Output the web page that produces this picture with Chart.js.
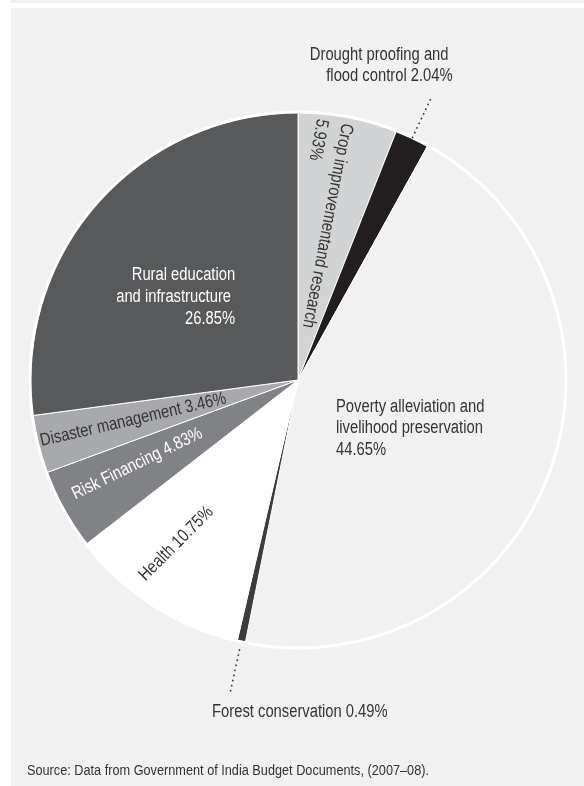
<!DOCTYPE html>
<html>
<head>
<meta charset="utf-8">
<script src="https://cdn.jsdelivr.net/npm/chart.js@4.4.1/dist/chart.umd.min.js"></script>
<style>
  html, body { margin: 0; padding: 0; background: #fff; }
  body { width: 584px; height: 786px; position: relative; overflow: hidden;
         font-family: "Liberation Sans", Arial, sans-serif; }
  #bande { position: absolute; left: 11px; top: 0; width: 573px; height: 3px; background: #f1f1f1; }
  #panneau { position: absolute; left: 11px; top: 8px; width: 573px; height: 778px; background: #f1f1f1; }
  #graph { position: absolute; left: 0; top: 0; }
  #source { position: absolute; left: 27px; top: 761px; font-size: 15.5px; color: #333; white-space: nowrap;
            transform: scaleX(0.82); transform-origin: 0 0; }
</style>
</head>
<body>
<div id="bande"></div>
<div id="panneau"></div>
<canvas id="graph" width="584" height="786"></canvas>
<div id="source">Source: Data from Government of India Budget Documents, (2007–08).</div>
<script>
// Postes budgétaires (sens horaire depuis midi)
const categories = [
    'Crop improvementand research',
    'Drought proofing and flood control',
    'Poverty alleviation and livelihood preservation',
    'Forest conservation',
    'Health',
    'Risk Financing',
    'Disaster management',
    'Rural education and infrastructure'
];
// Parts en pourcentage
const valeurs = [5.93, 2.04, 44.65, 0.49, 10.75, 4.83, 3.46, 26.85];
const couleurs = ['#d1d3d4', '#231f20', '#f1f1f1', '#3c3c3e', '#ffffff', '#808285', '#a7a9ac', '#58595b'];

// Police étroite simulée : Liberation Sans compressée horizontalement
const POLICE = '18px "Liberation Sans", Arial, sans-serif';
const ETROIT = 0.82;
const pct = i => valeurs[i].toFixed(2) + '%';

// Placement des étiquettes : dx/dy en rayons depuis le centre, rot en degrés
// "mid" = ancrage sur la bissectrice de la part, à k rayons
const etiquettes = [
    {i: 0, mid: 0.975, radial: true, align: 'left', lignes: ['Crop improvementand research', pct(0)], lh: 25, couleur: '#333'},
    {i: 1, dx: 0.578, dy: -1.213, align: 'right', lignes: ['Drought proofing and ', 'flood control ' + pct(1)], lh: 21, couleur: '#333', guide: [1.0, 1.17]},
    {i: 2, dx: 0.142, dy: 0.10, align: 'left', lignes: ['Poverty alleviation and', 'livelihood preservation', pct(2)], lh: 21.5, couleur: '#333'},
    {i: 3, dx: 0.007, dy: 1.243, align: 'center', lignes: ['Forest conservation ' + pct(3)], lh: 21, couleur: '#333', guide: [1.03, 1.2]},
    {i: 4, dx: -0.455, dy: 0.612, rot: -45, align: 'center', lignes: ['Health ' + pct(4)], lh: 21, couleur: '#333'},
    {i: 5, dx: -0.601, dy: 0.313, rot: -26, align: 'center', lignes: ['Risk Financing ' + pct(5)], lh: 21, couleur: '#fff'},
    {i: 6, dx: -0.616, dy: 0.149, rot: -13, align: 'center', lignes: ['Disaster management ' + pct(6)], lh: 21, couleur: '#333'},
    {i: 7, dx: -0.235, dy: -0.392, align: 'right', lignes: ['Rural education', 'and infrastructure ', pct(7)], lh: 22, couleur: '#fff'}
];

// Dessine le liseré blanc, les pointillés et les textes
const pluginEtiquettes = {
    id: 'etiquettes',
    afterDatasetsDraw(chart) {
        const ctx = chart.ctx;
        const arcs = chart.getDatasetMeta(0).data;
        const cx = arcs[0].x, cy = arcs[0].y, r = arcs[0].outerRadius;

        ctx.save();
        ctx.beginPath();
        ctx.arc(cx, cy, r + 0.5, 0, Math.PI * 2);
        ctx.lineWidth = 3;
        ctx.strokeStyle = '#ffffff';
        ctx.stroke();

        ctx.font = POLICE;
        ctx.textBaseline = 'middle';
        etiquettes.forEach(e => {
            const arc = arcs[e.i];
            const milieu = (arc.startAngle + arc.endAngle) / 2;
            let x, y, angle;
            if (e.radial) {
                x = cx + Math.cos(milieu) * r * e.mid;
                y = cy + Math.sin(milieu) * r * e.mid;
                angle = milieu + Math.PI;
            } else {
                x = cx + e.dx * r;
                y = cy + e.dy * r;
                angle = (e.rot || 0) * Math.PI / 180;
            }
            // ligne pointillée vers les petites parts
            if (e.guide) {
                ctx.save();
                ctx.beginPath();
                ctx.moveTo(cx + Math.cos(milieu) * r * e.guide[0], cy + Math.sin(milieu) * r * e.guide[0]);
                ctx.lineTo(cx + Math.cos(milieu) * r * e.guide[1], cy + Math.sin(milieu) * r * e.guide[1]);
                ctx.setLineDash([1.6, 3.6]);
                ctx.lineWidth = 1.6;
                ctx.strokeStyle = '#333';
                ctx.stroke();
                ctx.restore();
            }
            ctx.save();
            ctx.translate(x, y);
            ctx.rotate(angle);
            ctx.scale(ETROIT, 1);
            ctx.fillStyle = e.couleur;
            ctx.textAlign = e.align;
            e.lignes.forEach((l, k) => ctx.fillText(l, 0, k * e.lh));
            ctx.restore();
        });
        ctx.restore();
    }
};

new Chart(document.getElementById('graph'), {
    type: 'pie',
    data: {
        labels: categories,
        datasets: [{
            data: valeurs,
            backgroundColor: couleurs,
            borderColor: '#ffffff',
            borderWidth: 1
        }]
    },
    options: {
        responsive: false,
        animation: false,
        events: [],
        layout: {padding: {left: 30, right: 18, top: 112, bottom: 138}},
        plugins: {legend: {display: false}, tooltip: {enabled: false}}
    },
    plugins: [pluginEtiquettes]
});
</script>
</body>
</html>
